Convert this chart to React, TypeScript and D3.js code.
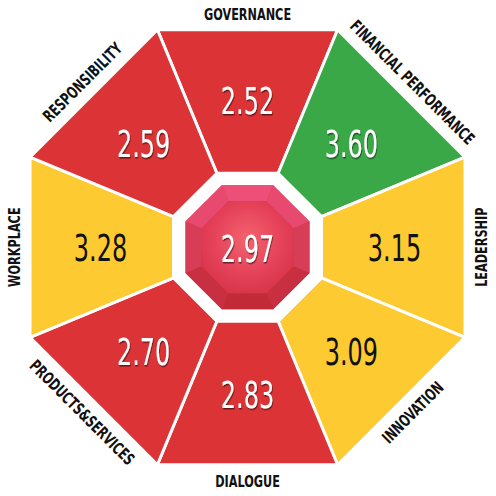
import React from "react";
import * as d3 from "d3";

const categories = [
  "GOVERNANCE",
  "FINANCIAL PERFORMANCE",
  "LEADERSHIP",
  "INNOVATION",
  "DIALOGUE",
  "PRODUCTS&SERVICES",
  "WORKPLACE",
  "RESPONSIBILITY",
];
const scores = [2.52, 3.6, 3.15, 3.09, 2.83, 2.7, 3.28, 2.59];
const thresholds = [3, 3.5];
const bandColors = ["#dc3436", "#fdca31", "#3aa847"];
const textColors = ["#ffffff", "#111111", "#ffffff"];

const W = 496;
const H = 496;
const cx = 247.5;
const cy = 247.2;
const outerApothem = 217.5;
const innerApothem = 74;
const gemApothem = 62;
const tableApothem = 46;
const labelRadius = 233.5;
const valueRadius = 147;
const K = 1 / Math.cos(Math.PI / 8);
const FONT = "'DejaVu Sans Condensed', 'DejaVu Sans', sans-serif";

function pt(angleDeg: number, r: number): [number, number] {
  const a = (angleDeg * Math.PI) / 180;
  return [cx + r * Math.sin(a), cy - r * Math.cos(a)];
}

const poly = d3.line<[number, number]>().curve(d3.curveLinearClosed);

export default function App() {
  const n = categories.length;
  const angle = d3.scaleLinear().domain([0, n]).range([0, 360]);
  const color = d3.scaleThreshold<number, string>().domain(thresholds).range(bandColors);
  const tColor = d3.scaleThreshold<number, string>().domain(thresholds).range(textColors);
  const overall = d3.mean(scores) as number;
  const half = 180 / n;
  const Ro = outerApothem * K;
  const Ri = innerApothem * K;
  const Rg = gemApothem * K;
  const Rt = tableApothem * K;
  const facetColor = d3.interpolateRgb("#ee4f78", "#c22a38");

  const gemOuter = d3.range(n).map((j) => pt(angle(j) - half, Rg));
  const tableOuter = d3.range(n).map((j) => pt(angle(j) - half, Rt));

  const textRot = (a: number) => {
    let r = a;
    while (r >= 90) r -= 180;
    while (r < -90) r += 180;
    return r;
  };

  return (
    <svg
      width={W}
      height={H}
      style={{ position: "absolute", left: 0, top: 0, background: "#fff" }}
    >
      <defs>
        <filter id="shadow" x="-20%" y="-20%" width="140%" height="140%">
          <feDropShadow dx="1" dy="1.5" stdDeviation="0.7" floodColor="#000" floodOpacity="0.55" />
        </filter>
        <radialGradient id="table" cx="50%" cy="42%" r="60%">
          <stop offset="0%" stopColor="#f4636f" />
          <stop offset="60%" stopColor="#e6435a" />
          <stop offset="100%" stopColor="#d6354a" />
        </radialGradient>
      </defs>
      {categories.map((c, i) => {
        const a = angle(i);
        const pts: [number, number][] = [
          pt(a - half, Ro),
          pt(a + half, Ro),
          pt(a + half, Ri),
          pt(a - half, Ri),
        ];
        return (
          <path
            key={c}
            d={poly(pts) as string}
            fill={color(scores[i])}
            stroke="#fff"
            strokeWidth={3}
            strokeLinejoin="round"
          />
        );
      })}
      {/* gem */}
      <path d={poly(gemOuter) as string} fill="#d3333f" />
      {d3.range(n).map((j) => {
        const a = angle(j);
        const pts: [number, number][] = [
          pt(a - half, Rg),
          pt(a + half, Rg),
          pt(a + half, Rt),
          pt(a - half, Rt),
        ];
        const t = (1 - Math.cos((a * Math.PI) / 180)) / 2;
        return <path key={"f" + j} d={poly(pts) as string} fill={facetColor(t)} />;
      })}
      <path d={poly(tableOuter) as string} fill="url(#table)" />
      {categories.map((c, i) => {
        const a = angle(i);
        const [vx, vy] = pt(a, valueRadius);
        const white = tColor(scores[i]) === "#ffffff";
        return (
          <text
            key={"v" + c}
            transform={`translate(${vx},${vy}) scale(0.71,1)`}
            textAnchor="middle"
            dy="0.36em"
            fontFamily={FONT}
            fontSize={37.5}
            fill={tColor(scores[i])}
            filter={white ? "url(#shadow)" : undefined}
          >
            {d3.format(".2f")(scores[i])}
          </text>
        );
      })}
      <text
        transform={`translate(${cx},${cy + 1}) scale(0.71,1)`}
        textAnchor="middle"
        dy="0.36em"
        fontFamily={FONT}
        fontSize={37.5}
        fill="#fff"
        filter="url(#shadow)"
      >
        {d3.format(".2f")(overall)}
      </text>
      {categories.map((c, i) => {
        const a = angle(i);
        const [lx, ly] = pt(a, labelRadius);
        return (
          <text
            key={"l" + c}
            transform={`translate(${lx},${ly}) rotate(${textRot(a)}) scale(0.76,1)`}
            textAnchor="middle"
            dy="0.36em"
            fontFamily={FONT}
            fontWeight="bold"
            fontSize={16.5}
            fill="#111"
          >
            {c}
          </text>
        );
      })}
    </svg>
  );
}
